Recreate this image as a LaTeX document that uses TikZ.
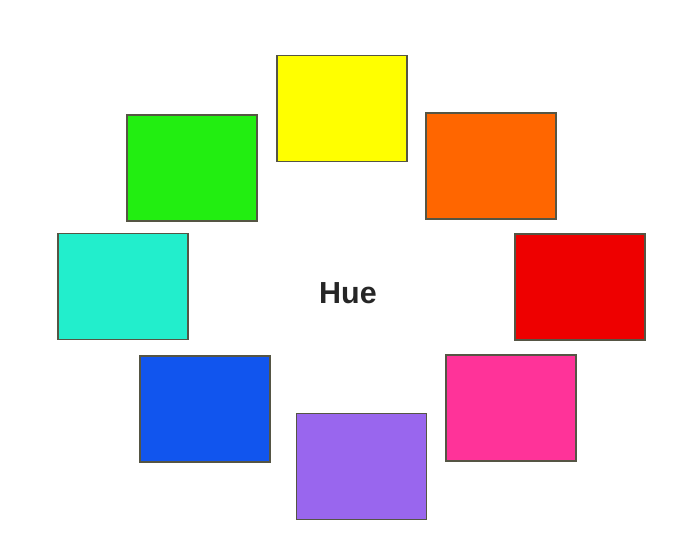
\documentclass[tikz,border=0pt]{standalone}
\usepackage{fontspec}
\setmainfont{Liberation Sans}
\usepackage{xcolor}
\usetikzlibrary{positioning}

\definecolor{hueyellow}{HTML}{FFFF00}
\definecolor{hueorange}{HTML}{FF6600}
\definecolor{huegreen}{HTML}{22EE11}
\definecolor{huecyan}{HTML}{22EECC}
\definecolor{huered}{HTML}{EE0000}
\definecolor{hueblue}{HTML}{1155EE}
\definecolor{huepink}{HTML}{FF3399}
\definecolor{huepurple}{HTML}{9966EE}
\definecolor{edgegray}{HTML}{555544}

\begin{document}
\begin{tikzpicture}[x=0.03cm, y=-0.03cm,
  swatch/.style={draw=edgegray, line width=1.4pt, minimum width=3.9cm, minimum height=3.18cm, inner sep=0pt}]
\useasboundingbox[fill=white] (0,0) rectangle (673,545);

\node[swatch, fill=hueyellow] (yellow) at (342,108.5) {};
\node[swatch, fill=hueorange] (orange) at (491,166) {};
\node[swatch, fill=huegreen] (green) at (192,168) {};
\node[swatch, fill=huecyan] (cyan) at (123,286.5) {};
\node[swatch, fill=huered] (red) at (580,287) {};
\node[swatch, fill=hueblue] (blue) at (205,409) {};
\node[swatch, fill=huepink] (pink) at (511,408) {};
\node[swatch, fill=huepurple] (purple) at (361.5,466.5) {};

\node[font=\fontsize{26}{30}\selectfont\bfseries, text=black!85] (hue) at (348,293) {Hue};
\end{tikzpicture}
\end{document}
